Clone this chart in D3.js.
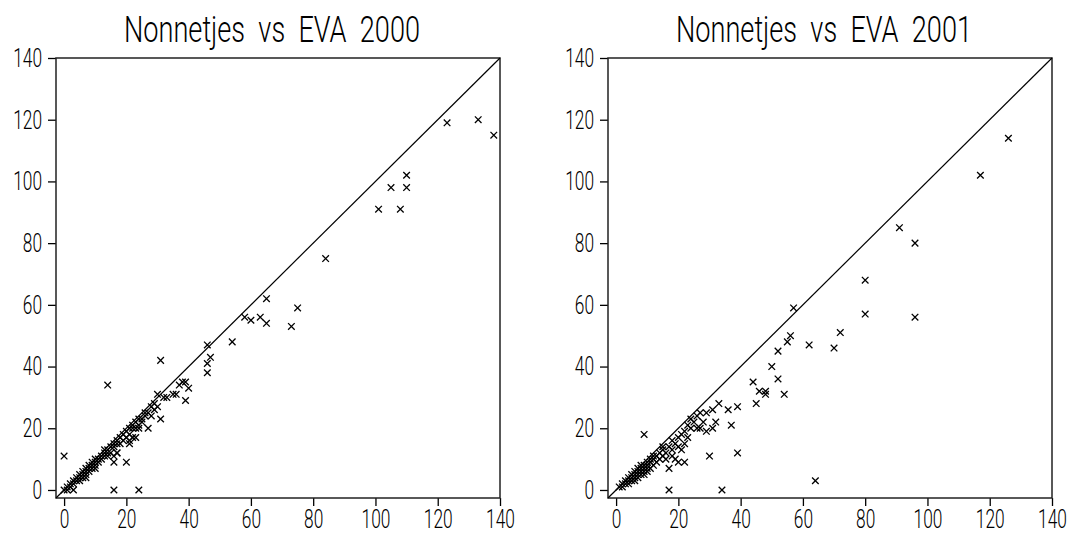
<!DOCTYPE html>
<html>
<head>
<meta charset="utf-8">
<script src="https://cdn.jsdelivr.net/npm/d3@7"></script>
<style>
  body { margin: 0; background: #fff; }
</style>
</head>
<body>
<div id="chart"></div>
<script>
// titles and tick labels
var titles = ["Nonnetjes  vs  EVA  2000", "Nonnetjes  vs  EVA  2001"];
var tickValues = [0, 20, 40, 60, 80, 100, 120, 140];

// [EVA, Nonnetjes] pairs
var data2000 = [
  [0,0],[1,1],[1,0],[2,1],[2,2],[3,0],[3,3],[3,2],[4,3],[4,4],[5,4],[5,5],[5,3],
  [6,4],[6,5],[6,6],[7,5],[7,6],[7,7],[7,4],[8,6],[8,7],[8,8],[9,7],[9,8],[9,9],
  [10,7],[10,8],[10,9],[10,10],[11,9],[11,10],[12,11],[12,10],[13,11],[13,12],[13,13],
  [14,12],[14,11],[14,13],[15,14],[15,12],[16,14],[16,15],[16,11],[17,12],[17,15],
  [17,16],[18,15],[18,17],[19,16],[19,18],[20,17],[20,19],[21,16],[21,18],[21,20],
  [22,17],[22,20],[22,21],[23,20],[23,22],[24,20],[24,21],[24,23],[25,23],[25,22],
  [26,24],[26,25],[27,20],[27,25],[28,24],[28,27],[29,26],[29,28],[30,27],[30,31],
  [31,23],[32,30],[33,30],[35,31],[36,31],[37,34],[38,35],[39,35],[39,29],[40,33],
  [0,11],[14,34],[16,0],[24,0],[31,42],[16,9],[20,9],[17,12],[21,15],[23,17],
  [46,47],[47,43],[46,41],[46,38],[54,48],[58,56],[60,55],[63,56],[65,54],[65,62],
  [73,53],[75,59],[84,75],[101,91],[105,98],[108,91],[110,98],[110,102],
  [123,119],[133,120],[138,115]
];

var data2001 = [
  [1,1],[2,1],[2,2],[3,2],[3,3],[4,2],[4,3],[4,4],[5,3],[5,4],[5,5],[6,3],[6,4],
  [6,5],[6,6],[7,4],[7,5],[7,6],[7,7],[8,5],[8,6],[8,7],[8,8],[9,5],[9,6],[9,7],
  [9,8],[10,6],[10,7],[10,8],[10,9],[11,7],[11,9],[11,10],[12,8],[12,10],[12,11],
  [13,9],[13,11],[14,10],[14,12],[15,11],[15,13],[15,14],[16,10],[16,12],[17,7],
  [17,14],[18,11],[18,13],[18,16],[19,10],[19,15],[20,9],[20,14],[20,17],[21,13],
  [21,18],[22,9],[22,15],[22,19],[23,17],[23,21],[24,20],[24,23],[25,22],[26,20],
  [26,24],[27,20],[27,25],[28,22],[29,19],[29,25],[30,11],[31,20],[31,26],[32,22],
  [33,28],[36,26],[37,21],[39,12],[39,27],[44,35],[45,28],[46,32],[48,32],[48,31],
  [50,40],[52,45],[52,36],[54,31],[55,48],[56,50],[57,59],[62,47],[64,3],[70,46],
  [72,51],[80,68],[80,57],[91,85],[96,80],[96,56],[117,102],[126,114],[9,18],
  [17,0],[34,0]
];

var domain = [-2.6, 140];
var width = 1070, height = 533;
var boxTop = 58, boxBottom = 498;
var panels = [
  {title: titles[0], data: data2000, left: 56, right: 500},
  {title: titles[1], data: data2001, left: 608, right: 1052}
];

var font = "Roboto, 'Liberation Sans', Arial, sans-serif";
var charW = 9.6;   // the original font is very narrow

var svg = d3.select("#chart").append("svg")
    .attr("width", width)
    .attr("height", height);

var y_scale = d3.scaleLinear().domain(domain).range([boxBottom, boxTop]);

function squeeze(sel) {
  sel.selectAll(".tick text")
      .attr("font-family", font)
      .attr("font-weight", 300)
      .attr("font-size", 26)
      .attr("fill", "#000")
      .attr("lengthAdjust", "spacingAndGlyphs")
      .attr("textLength", function(d) { return String(d).length * charW; });
}

panels.forEach(function(p) {
  var x_scale = d3.scaleLinear().domain(domain).range([p.left, p.right]);
  var g = svg.append("g");

  // title
  g.append("text")
      .attr("x", (p.left + p.right) / 2 - 6)
      .attr("y", 42)
      .attr("text-anchor", "middle")
      .attr("font-family", font)
      .attr("font-weight", 300)
      .attr("font-size", 36)
      .style("white-space", "pre")
      .attr("lengthAdjust", "spacingAndGlyphs")
      .attr("textLength", 296)
      .text(p.title);

  // y axis
  var ya = g.append("g")
      .attr("transform", "translate(" + p.left + ",0)")
      .call(d3.axisLeft(y_scale).tickValues(tickValues).tickSize(8).tickPadding(6));
  ya.select(".domain").remove();
  ya.selectAll(".tick line").attr("stroke", "#000").attr("stroke-width", 1.3);
  squeeze(ya);

  // x axis
  var xa = g.append("g")
      .attr("transform", "translate(0," + boxBottom + ")")
      .call(d3.axisBottom(x_scale).tickValues(tickValues).tickSize(8).tickPadding(4));
  xa.select(".domain").remove();
  xa.selectAll(".tick line").attr("stroke", "#000").attr("stroke-width", 1.3);
  squeeze(xa);

  // frame
  g.append("rect")
      .attr("x", p.left)
      .attr("y", boxTop)
      .attr("width", p.right - p.left)
      .attr("height", boxBottom - boxTop)
      .attr("fill", "none")
      .attr("stroke", "#222")
      .attr("stroke-width", 1.5);

  // line of equality
  g.append("line")
      .attr("x1", x_scale(domain[0])).attr("y1", y_scale(domain[0]))
      .attr("x2", x_scale(domain[1])).attr("y2", y_scale(domain[1]))
      .attr("stroke", "#000")
      .attr("stroke-width", 1.2);

  // x markers
  var s = 3.3;
  g.append("g").selectAll("path")
      .data(p.data)
      .enter().append("path")
      .attr("transform", function(d) {
        return "translate(" + x_scale(d[0]) + "," + y_scale(d[1]) + ")";
      })
      .attr("d", "M" + -s + "," + -s + "L" + s + "," + s + "M" + -s + "," + s + "L" + s + "," + -s)
      .attr("fill", "none")
      .attr("stroke", "#000")
      .attr("stroke-width", 1.3);
});
</script>
</body>
</html>
